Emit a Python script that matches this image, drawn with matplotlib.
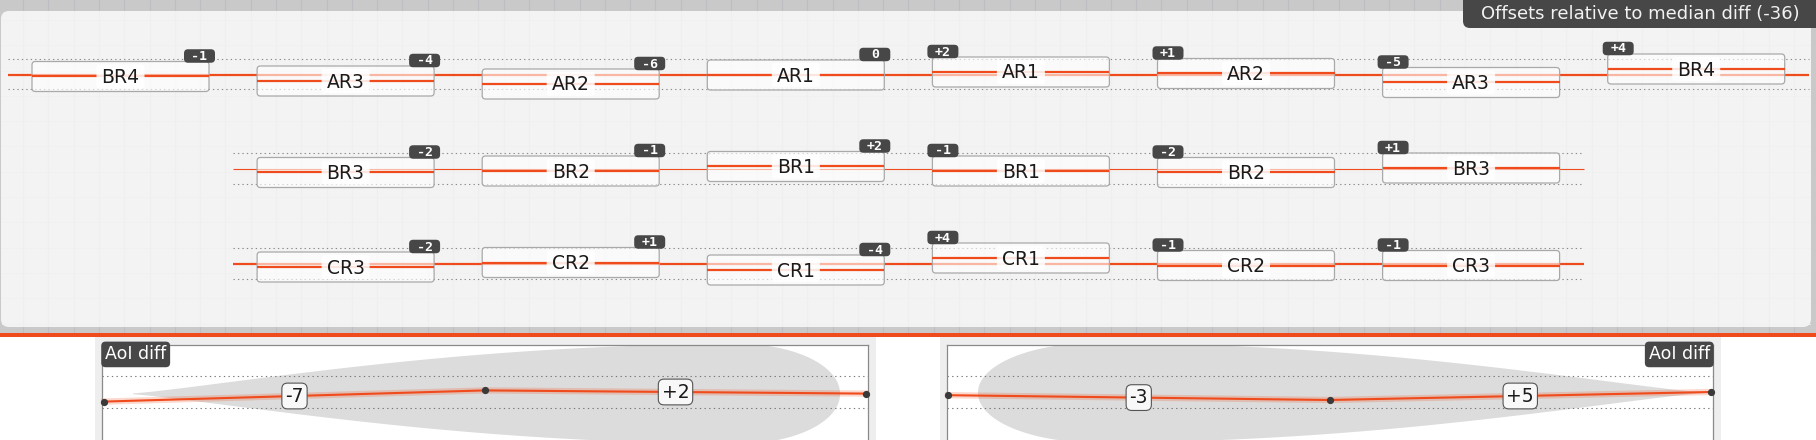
import numpy as np
import matplotlib.pyplot as plt
from matplotlib.patches import FancyBboxPatch, Rectangle, Polygon

# ---- data ----
median_diff = -36
row_names = [
    ["BR4", "AR3", "AR2", "AR1", "AR1", "AR2", "AR3", "BR4"],
    ["BR3", "BR2", "BR1", "BR1", "BR2", "BR3"],
    ["CR3", "CR2", "CR1", "CR1", "CR2", "CR3"],
]
row_offsets = [
    [-1, -4, -6, 0, 2, 1, -5, 4],
    [-2, -1, 2, -1, -2, 1],
    [-2, 1, -4, 4, -1, -1],
]
row_first_slot = [0, 1, 1]
row_line_width = [1.6, 0.8, 1.6]

# AoI diff panels (left one runs right-to-left)
aoi_left = [-1, 1, -6]
aoi_right = [-2, -5, 0]

ORANGE = "#ef4b1c"
DARK = "#474747"

W, H = 1816, 440
fig = plt.figure(figsize=(W / 100, H / 100), dpi=100)

# ---- background decoration (pixel coords) ----
bg = fig.add_axes([0, 0, 1, 1], zorder=0)
bg.set_xlim(0, W)
bg.set_ylim(H, 0)
bg.axis("off")
bg.add_patch(Rectangle((0, 0), W, 337, color="#c9c9c9", lw=0, zorder=0))
for x in np.arange(23, W, 25.3):
    bg.plot([x, x], [0, 333], color="#bdbdc3", lw=0.8, zorder=0.5)
bg.add_patch(FancyBboxPatch((1, 11), 1810, 316, boxstyle="round,pad=0,rounding_size=8",
                            fc="#f3f3f3", ec="none", zorder=1))
for x in np.arange(23, W - 6, 25.3):
    bg.plot([x, x], [12, 326], color="#efefef", lw=0.8, zorder=1.5)
for y in np.arange(20, 326, 25.3):
    bg.plot([2, 1810], [y, y], color="#f0f0f0", lw=0.6, zorder=1.5)
bg.add_patch(Rectangle((0, 333), W, 4, color=ORANGE, lw=0, zorder=3))
bg.add_patch(Rectangle((95, 337), 781, 110, color="#eeeeee", lw=0, zorder=3))
bg.add_patch(Rectangle((940, 337), 781, 110, color="#eeeeee", lw=0, zorder=3))
# title tab
bg.add_patch(FancyBboxPatch((1463, -10), 400, 38, boxstyle="round,pad=0,rounding_size=7",
                            fc=DARK, ec="none", zorder=4))
bg.text(1640, 14, f"Offsets relative to median diff ({median_diff})", ha="center",
        va="center", fontsize=13, family="DejaVu Sans", color="#f2f2f2", zorder=5)

# ---- top chart ----
pxx, pxy = 225.1, 94.5          # pixels per slot / per row
top_h = 337
ax = fig.add_axes([0, (H - top_h) / H, 1, top_h / H], zorder=1)
ax.set_xlim(-120.5 / pxx, (W - 120.5) / pxx)
ax.set_ylim((top_h - 75) / pxy, -75 / pxy)
ax.axis("off")
ax.patch.set_alpha(0)

bw, bh = 177 / pxx, 30 / pxy
shift = 1.5 / pxy
asp = pxx / pxy
for r, (names, offs) in enumerate(zip(row_names, row_offsets)):
    first = row_first_slot[r]
    last = first + len(names) - 1
    ax.plot([first - 0.5, last + 0.5], [r, r], color=ORANGE, lw=row_line_width[r], zorder=1,
            solid_capstyle="butt")
    for dy in (-16 / pxy, 14.5 / pxy):
        ax.plot([first - 0.5, last + 0.5], [r + dy, r + dy], color="#8a8a8a", lw=0.8,
                ls=(0, (1.2, 2.8)), zorder=1)
    for j, (name, v) in enumerate(zip(names, offs)):
        s = first + j
        yc = r - v * shift
        ax.add_patch(FancyBboxPatch((s - bw / 2, yc - bh / 2), bw, bh,
                                    boxstyle="round,pad=0,rounding_size=0.015",
                                    mutation_aspect=asp, fc=(1, 1, 1, 0.6),
                                    ec="#a9a9a9", lw=0.9, zorder=2))
        ax.plot([s - bw / 2, s + bw / 2], [yc, yc], color=ORANGE, lw=1.6, zorder=3,
                solid_capstyle="butt")
        lw_, lh_ = 48 / pxx, 24 / pxy
        ax.add_patch(FancyBboxPatch((s - lw_ / 2, yc - lh_ / 2), lw_, lh_,
                                    boxstyle="round,pad=0,rounding_size=0.012",
                                    mutation_aspect=asp, fc=(1, 1, 1, 0.86), ec="none",
                                    zorder=4))
        ax.text(s, yc + 1 / pxy, name, ha="center", va="center", fontsize=13.5,
                family="DejaVu Sans", color="#1a1a1a", zorder=5)
        # offset badge
        if s < 3.75:
            bx = s + bw / 2 - 9.5 / pxx
        else:
            bx = s - bw / 2 + 10.5 / pxx
        by = yc - bh / 2 - 5.5 / pxy
        gw, gh = 31 / pxx, 13.5 / pxy
        ax.add_patch(FancyBboxPatch((bx - gw / 2, by - gh / 2), gw, gh,
                                    boxstyle="round,pad=0,rounding_size=0.018",
                                    mutation_aspect=asp, fc=DARK, ec="none", zorder=6))
        lab = "0" if v == 0 else f"{v:+d}"
        ax.text(bx, by + 0.5 / pxy, lab, ha="center", va="center", fontsize=9.5,
                family="DejaVu Sans Mono", weight="bold", color="white", zorder=7)


# ---- AoI diff panels ----
def blob(ax, tip, end, xm, yc, hh):
    d = np.linspace(0, 1, 120)
    xs_a = tip + (xm - tip) * d
    h_a = hh * (1 - (1 - d) ** 2) ** 1.2
    t = np.linspace(0, np.pi / 2, 60)
    xs_b = xm + (end - xm) * np.sin(t)
    h_b = hh * np.cos(t)
    xs = np.concatenate([xs_a, xs_b])
    hs = np.concatenate([h_a, h_b]) + 0.004
    pts = np.concatenate([np.column_stack([xs, yc + hs]),
                          np.column_stack([xs[::-1], yc - hs[::-1]])])
    ax.add_patch(Polygon(pts, closed=True, transform=ax.transAxes, fc="#dcdcdc",
                         ec="none", zorder=1))


def aoi_panel(left_px, vals, reverse, tab_right, blob_args):
    pw = 766
    a = fig.add_axes([left_px / W, -10 / H, pw / W, 105 / H], zorder=2)
    ppu = 381.5
    if reverse:
        a.set_xlim(2 + 2 / ppu, -2 / ppu)
    else:
        a.set_xlim(-1 / ppu, 2 + 2 / ppu)
    a.set_ylim(-58 / 1.6, 47 / 1.6)
    a.set_xticks([])
    a.set_yticks([])
    for sp in a.spines.values():
        sp.set_color("#8a8a8a")
        sp.set_linewidth(0.9)
    a.set_facecolor("white")
    blob(a, *blob_args)
    for yv in (10, -10):
        a.axhline(yv, color="#777777", lw=0.8, ls=(0, (1.2, 3)), zorder=2)
    x = np.arange(len(vals))
    a.plot(x, vals, color=ORANGE, lw=4.5, alpha=0.22, zorder=3, clip_on=False)
    a.plot(x, vals, color=ORANGE, lw=1.5, zorder=4, clip_on=False)
    a.plot(x, vals, "o", color="#3a3a3a", ms=4.2, zorder=5, clip_on=False)
    for i in range(len(vals) - 1):
        d = vals[i + 1] - vals[i]
        a.text((x[i] + x[i + 1]) / 2, (vals[i] + vals[i + 1]) / 2, f"{d:+d}",
               ha="center", va="center", fontsize=13.5,
               family=["Liberation Sans Narrow", "DejaVu Sans"],
               color="#1a1a1a", zorder=6,
               bbox=dict(boxstyle="round,pad=0.18,rounding_size=0.3", fc="#f8f8f8",
                         ec="#555555", lw=0.8))
    if tab_right:
        a.text(0.996, 0.996, "AoI diff", transform=a.transAxes, ha="right", va="top",
               fontsize=12.5, family=["Liberation Sans Narrow", "DejaVu Sans"],
               color="white", zorder=7,
               bbox=dict(boxstyle="round,pad=0.22,rounding_size=0.25", fc=DARK, ec="none"))
    else:
        a.text(0.004, 0.996, "AoI diff", transform=a.transAxes, ha="left", va="top",
               fontsize=12.5, family=["Liberation Sans Narrow", "DejaVu Sans"],
               color="white", zorder=7,
               bbox=dict(boxstyle="round,pad=0.22,rounding_size=0.25", fc=DARK, ec="none"))
    return a


aoi_panel(102, aoi_left, True, False, (31 / 766, 738 / 766, 638 / 766, 0.535, 0.47))
aoi_panel(947, aoi_right, False, True, (755 / 766, 31 / 766, 148 / 766, 0.545, 0.47))

fig.savefig("out.png", dpi=100)
